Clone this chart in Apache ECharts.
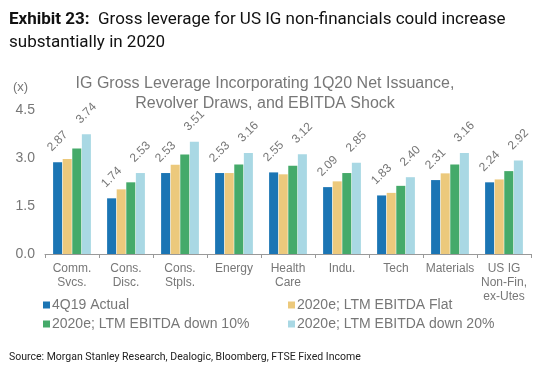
<!DOCTYPE html>
<html><head><meta charset="utf-8">
<script src="https://cdn.jsdelivr.net/npm/echarts@6/dist/echarts.min.js"></script>
<style>html,body{margin:0;padding:0;background:#fff}#c{width:550px;height:369px}</style>
</head><body><div id="c"></div>
<script>
const categories = ['Comm.\nSvcs.', 'Cons.\nDisc.', 'Cons.\nStpls.', 'Energy', 'Health\nCare', 'Indu.', 'Tech', 'Materials', 'US IG\nNon-Fin,\nex-Utes'];
const actual4Q19 = [2.87, 1.74, 2.53, 2.53, 2.55, 2.09, 1.83, 2.31, 2.24];
const ebitdaFlat = [2.97, 2.02, 2.79, 2.53, 2.49, 2.27, 1.91, 2.52, 2.33];
const ebitdaDown10 = [3.30, 2.24, 3.11, 2.80, 2.76, 2.53, 2.13, 2.80, 2.59];
const ebitdaDown20 = [3.74, 2.53, 3.51, 3.16, 3.12, 2.85, 2.40, 3.16, 2.92];
const yTicks = [0, 1.5, 3.0, 4.5];
const seriesNames = ['4Q19 Actual', '2020e; LTM EBITDA Flat', '2020e; LTM EBITDA down 10%', '2020e; LTM EBITDA down 20%'];
const colors = ['#1b75b4', '#ecc97c', '#45aa6a', '#a9d8e4'];

const chart = echarts.init(document.getElementById('c'), null, {renderer: 'canvas'});
const lbl = {
  show: true, position: 'top', rotate: 45, distance: 21,
  align: 'center', verticalAlign: 'middle',
  color: '#777', fontSize: 12, fontFamily: 'Liberation Sans',
  formatter: p => p.value.toFixed(2)
};
function mk(i, data, labeled) {
  return {
    name: seriesNames[i], type: 'bar', data: data,
    itemStyle: {color: colors[i]},
    barGap: '6%', barCategoryGap: '30%',
    label: labeled ? lbl : {show: false},
    emphasis: {disabled: true}
  };
}
const legendBase = {
  orient: 'vertical', top: 293, itemWidth: 7, itemHeight: 7, itemGap: 5, icon: 'rect',
  textStyle: {color: '#777', fontSize: 14, fontFamily: 'Liberation Sans', padding: [0,0,0,-3]}
};
chart.setOption({
  animation: false,
  title: [
    {text: '{b|Exhibit 23:}  Gross leverage for US IG non-financials could increase\nsubstantially in 2020',
     left: 4, top: 3,
     textStyle: {fontFamily: 'Roboto', fontSize: 17, fontWeight: 'normal', color: '#111', lineHeight: 23,
       rich: {b: {fontFamily: 'Roboto', fontSize: 17, fontWeight: 'bold', color: '#111'}}}},
    {text: 'IG Gross Leverage Incorporating 1Q20 Net Issuance,\nRevolver Draws, and EBITDA Shock',
     left: 260, top: 69, textAlign: 'center',
     textStyle: {fontFamily: 'Liberation Sans', fontSize: 16, fontWeight: 'normal', color: '#777', lineHeight: 20}},
    {text: 'Source: Morgan Stanley Research, Dealogic, Bloomberg, FTSE Fixed Income',
     left: 4, top: 347,
     textStyle: {fontFamily: 'Roboto', fontSize: 10.5, fontWeight: 'normal', color: '#222'}}
  ],
  graphic: [{type: 'text', left: 13, top: 81, style: {text: '(x)', fill: '#777', font: '13px Liberation Sans'}}],
  legend: [
    Object.assign({}, legendBase, {left: 38, data: [seriesNames[0], seriesNames[2]]}),
    Object.assign({}, legendBase, {left: 283, data: [seriesNames[1], seriesNames[3]]})
  ],
  grid: {left: 45, right: 19, top: 110, bottom: 115},
  xAxis: {
    type: 'category', data: categories,
    axisLine: {lineStyle: {color: '#999'}},
    axisTick: {show: true, lineStyle: {color: '#999'}, length: 4},
    axisLabel: {color: '#777', fontSize: 12, fontFamily: 'Liberation Sans', lineHeight: 14, margin: 8, interval: 0}
  },
  yAxis: {
    type: 'value', min: 0, max: 4.5, interval: 1.5,
    axisLine: {show: false}, axisTick: {show: false}, splitLine: {show: false},
    axisLabel: {color: '#777', fontSize: 14, fontFamily: 'Liberation Sans', margin: 10,
      formatter: v => v.toFixed(1)}
  },
  series: [mk(0, actual4Q19, true), mk(1, ebitdaFlat, false), mk(2, ebitdaDown10, false), mk(3, ebitdaDown20, true)]
});
</script></body></html>
